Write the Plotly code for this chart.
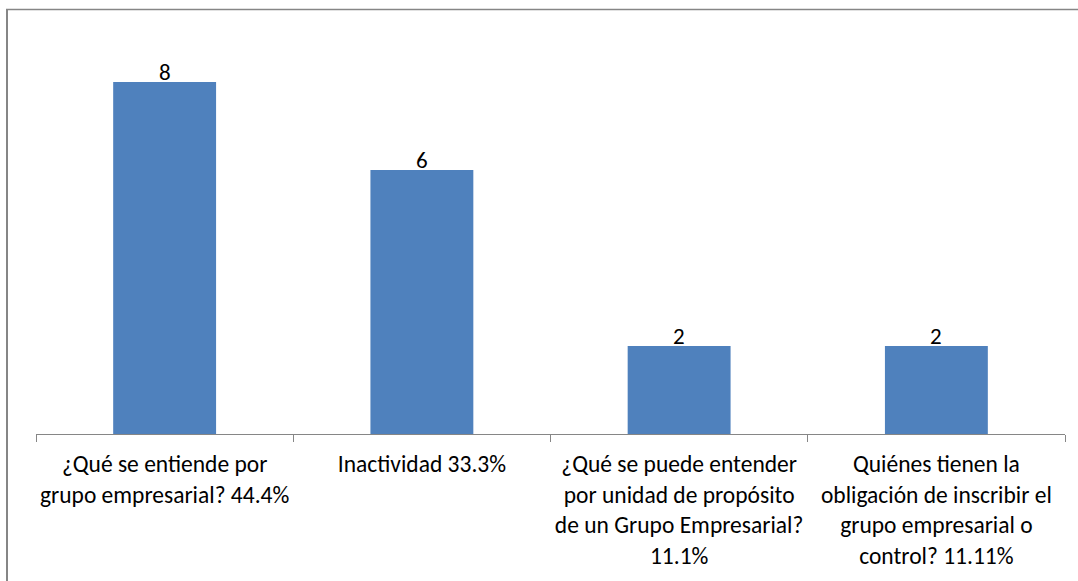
import plotly.graph_objects as go

categories = [
    "¿Qué se entiende por<br>grupo empresarial? 44.4%",
    "Inactividad 33.3%",
    "¿Qué se puede entender<br>por unidad de propósito<br>de un Grupo Empresarial?<br>11.1%",
    "Quiénes tienen la<br>obligación de inscribir el<br>grupo empresarial o<br>control? 11.11%",
]
values = [8, 6, 2, 2]
y_max = 9

W, H = 1078, 581
L, R, T, B = 36, 13, 38, 147
pw, ph = W - L - R, H - T - B

def px(x):
    return (x - L) / pw

def py(y):
    return (H - B - y) / ph

FONT = "Carlito, Calibri, Lato, sans-serif"

fig = go.Figure(
    go.Bar(
        x=categories,
        y=values,
        marker=dict(color="#4F81BD", line=dict(width=0)),
        width=0.4,
        hoverinfo="x+y",
    )
)

for c, v in zip(categories, values):
    fig.add_annotation(
        x=c, y=v, text=str(v), showarrow=False,
        yanchor="bottom", yshift=-6,
        font=dict(family=FONT, size=23, color="#000000"),
    )

fig.update_layout(
    width=W,
    height=H,
    margin=dict(l=L, r=R, t=T, b=B, autoexpand=False),
    paper_bgcolor="white",
    plot_bgcolor="white",
    showlegend=False,
    font=dict(family=FONT, size=23.5, color="#000000"),
    xaxis=dict(
        showline=True,
        linecolor="#868686",
        linewidth=1,
        ticks="outside",
        tickson="boundaries",
        ticklen=7,
        tickcolor="#868686",
        showgrid=False,
        tickangle=0,
        automargin=False,
        ticklabelstandoff=9,
        tickfont=dict(family=FONT, size=23.5, color="#000000"),
    ),
    yaxis=dict(range=[0, y_max], visible=False, showgrid=False),
    shapes=[
        dict(type="line", xref="paper", yref="paper",
             x0=px(6), x1=px(1078), y0=py(9.5), y1=py(9.5),
             line=dict(color="#868686", width=1.5)),
        dict(type="line", xref="paper", yref="paper",
             x0=px(7), x1=px(7), y0=py(9.5), y1=py(581),
             line=dict(color="#868686", width=2)),
    ],
)

fig.write_html(
    "out.html",
    config={"displayModeBar": False},
    post_script="document.body.style.margin='0';",
)
